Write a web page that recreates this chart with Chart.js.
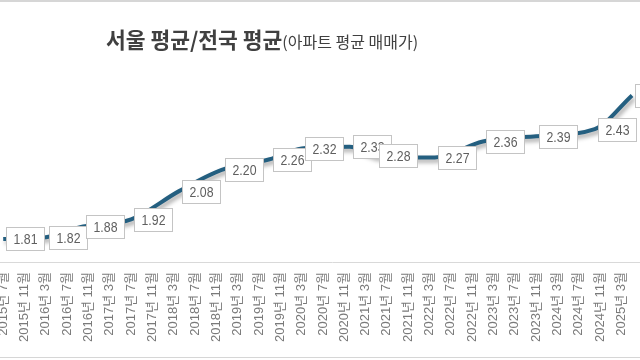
<!DOCTYPE html>
<html>
<head>
<meta charset="utf-8">
<script src="https://cdn.jsdelivr.net/npm/chart.js@4/dist/chart.umd.min.js"></script>
<style>
  html, body { margin: 0; padding: 0; background: #fff; }
  #frame { position: relative; width: 640px; height: 360px; overflow: hidden; background: #fff; }
  #wrap { position: absolute; left: -20px; top: 0; width: 714px; height: 360px; }
  #title { position: absolute; left: 106px; top: 26px; white-space: nowrap; color: #404040;
           font-family: 'Noto Sans CJK KR', sans-serif; line-height: 26px; }
  #title .big { font-size: 21.5px; font-weight: bold; }
  #title .small { font-size: 16px; font-weight: normal; }
  .hline { position: absolute; left: 0; width: 640px; height: 1px; background: #d6d6d6; }
</style>
</head>
<body>
<div id="frame">
  <div class="hline" style="top:0px;height:2px;"></div>
  <div class="hline" style="top:357px;"></div>
  <div id="wrap"><canvas id="c"></canvas></div>
  <div id="title"><span class="big">서울 평균/전국 평균</span><span class="small">(아파트 평균 매매가)</span></div>
</div>
<script>
// x tick labels (every 4 months from 2015년 7월)
const tickLabels = ['2015년 7월','2015년 11월','2016년 3월','2016년 7월','2016년 11월','2017년 3월','2017년 7월','2017년 11월',
  '2018년 3월','2018년 7월','2018년 11월','2019년 3월','2019년 7월','2019년 11월','2020년 3월','2020년 7월','2020년 11월',
  '2021년 3월','2021년 7월','2021년 11월','2022년 3월','2022년 7월','2022년 11월','2023년 3월','2023년 7월','2023년 11월',
  '2024년 3월','2024년 7월','2024년 11월','2025년 3월'];
// months after 2015년 7월 where each labelled point sits
const pointMonths = [0, 8, 15, 24, 33, 41, 50, 56, 65, 70, 81, 90, 100, 111, 118];
// Seoul average / national average (apartment average sale price)
const ratioValues = [1.81, 1.82, 1.88, 1.92, 2.08, 2.20, 2.26, 2.32, 2.33, 2.28, 2.27, 2.36, 2.39, 2.43, 2.62];

const points = pointMonths.map((m, i) => ({ x: m, y: ratioValues[i] }));

const shadowPlugin = {
  id: 'shadow',
  beforeDatasetDraw(chart) {
    const ctx = chart.ctx;
    ctx.save();
    ctx.shadowColor = 'rgba(0,0,0,0.35)';
    ctx.shadowBlur = 4;
    ctx.shadowOffsetX = 2;
    ctx.shadowOffsetY = 3;
  },
  afterDatasetDraw(chart) { chart.ctx.restore(); }
};

const labelPlugin = {
  id: 'boxLabels',
  afterDatasetsDraw(chart) {
    const ctx = chart.ctx;
    const meta = chart.getDatasetMeta(0);
    ctx.save();
    ctx.font = '15px "Liberation Sans", Arial, sans-serif';
    meta.data.forEach((pt, i) => {
      const txt = ratioValues[i].toFixed(2);
      const sx = 0.82;
      const tw = ctx.measureText(txt).width * sx;
      const w = Math.round(tw + 14), h = 23;
      const left = Math.round(pt.x + 3) + 0.5;
      const top = Math.round(pt.y - h / 2) + 0.5;
      ctx.fillStyle = '#ffffff';
      ctx.fillRect(left, top, w, h);
      ctx.strokeStyle = '#c4c4c4';
      ctx.lineWidth = 1;
      ctx.strokeRect(left, top, w, h);
      ctx.save();
      ctx.translate(left + w / 2, top + h / 2 + 1);
      ctx.scale(sx, 1);
      ctx.fillStyle = '#5f5f5f';
      ctx.textAlign = 'center';
      ctx.textBaseline = 'middle';
      ctx.fillText(txt, 0, 0);
      ctx.restore();
    });
    ctx.restore();
  }
};

new Chart(document.getElementById('c'), {
  type: 'line',
  data: {
    datasets: [{
      data: points,
      borderColor: '#245f80',
      borderWidth: 4,
      pointRadius: 0,
      cubicInterpolationMode: 'monotone',
      fill: false
    }]
  },
  options: {
    responsive: true,
    maintainAspectRatio: false,
    animation: false,
    layout: { padding: { left: 20, top: 60, right: 30, bottom: 0 } },
    plugins: { legend: { display: false }, tooltip: { enabled: false }, title: { display: false } },
    scales: {
      x: {
        type: 'linear',
        min: -0.6,
        max: 124,
        grid: { display: false, drawTicks: false },
        border: { display: true, color: '#d9d9d9', width: 1 },
        ticks: {
          stepSize: 4,
          includeBounds: false,
          autoSkip: false,
          minRotation: 90,
          maxRotation: 90,
          padding: 10,
          color: '#7a7a7a',
          font: { family: '"Liberation Sans", "Noto Sans CJK KR", sans-serif', size: 13 },
          callback: (v) => { const i = v / 4; return Number.isInteger(i) && tickLabels[i] ? tickLabels[i] : ''; }
        },
        afterFit: (scale) => { scale.height = 98; }
      },
      y: { display: false, min: 1.68, max: 2.82 }
    }
  },
  plugins: [shadowPlugin, labelPlugin]
});
</script>
</body>
</html>
